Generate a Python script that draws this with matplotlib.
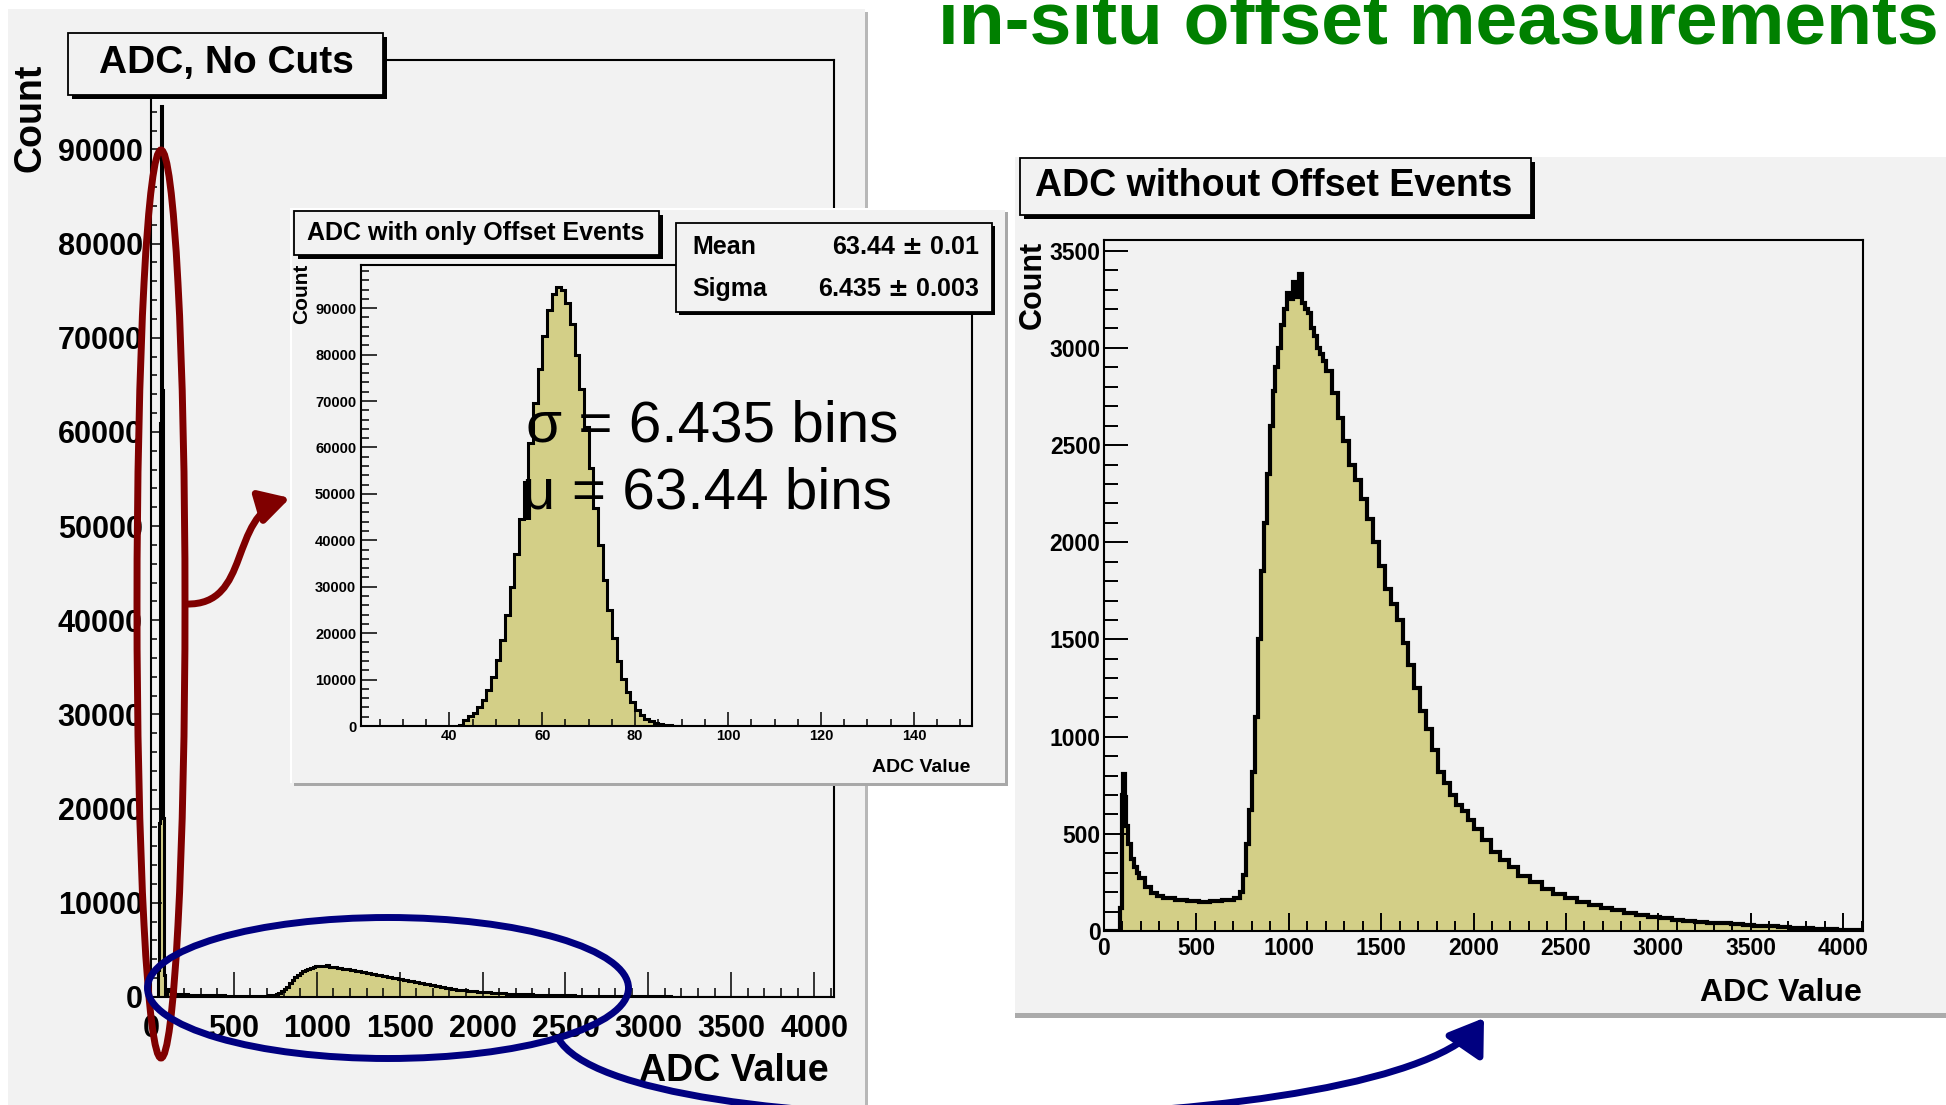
import matplotlib.pyplot as plt
from matplotlib.patches import Rectangle, Ellipse, FancyArrowPatch
from matplotlib.path import Path
from matplotlib.ticker import MultipleLocator
import numpy as np

# Canvas size in pixels (dpi 100)
W, H = 1946, 1105
plt.rcParams['font.family'] = ['Liberation Sans', 'DejaVu Sans']
plt.rcParams['font.weight'] = 'bold'

BG = '#f2f2f2'
FILL = '#d3cf87'

# Offset-only histogram (1 ADC bins starting at 42)
offset_first_bin = 42
offset_counts = [300, 1300, 2200, 2900, 4100, 5600, 7800, 10500, 14200, 18500,
                 24000, 30000, 37000, 44500, 52500, 61000, 69500, 77000, 84000, 89500,
                 93000, 94600, 94000, 91200, 86500, 80000, 72500, 64500, 55500, 47000,
                 39000, 31500, 25000, 19000, 14000, 10200, 7400, 5200, 3500, 2300,
                 1500, 1000, 650, 420, 260, 150, 90, 40]
offset_mean = '63.44 $\\pm$ 0.01'
offset_sigma = '6.435 $\\pm$ 0.003'

# Histogram without offset events (bin edges in ADC, counts read per bin)
phys_edges = [0, 88, 96, 104, 112, 120, 128, 144, 160, 176, 192, 224, 256, 288, 320,
              384, 448, 512, 576, 640, 704, 736, 752, 768, 784, 800, 816, 832, 848,
              864, 880, 896, 912, 928, 944, 960, 976, 992, 1008, 1024, 1040, 1056,
              1072, 1088, 1104, 1120, 1136, 1152, 1168, 1184, 1200, 1232, 1264, 1296,
              1328, 1360, 1392, 1424, 1456, 1488, 1520, 1552, 1584, 1616, 1648, 1680,
              1712, 1744, 1776, 1808, 1840, 1872, 1904, 1936, 1968, 2000, 2048, 2096,
              2144, 2192, 2240, 2304, 2368, 2432, 2496, 2560, 2624, 2688, 2752, 2816,
              2880, 2944, 3008, 3072, 3136, 3200, 3264, 3328, 3392, 3456, 3520, 3584,
              3648, 3712, 3776, 3840, 3904, 3968, 4032, 4096]
phys_counts = [0, 120, 700, 810, 690, 540, 450, 370, 330, 300,
               275, 225, 195, 180, 170, 160, 155, 150, 155, 158,
               168, 200, 290, 450, 620, 820, 1100, 1500, 1850, 2100,
               2350, 2600, 2780, 2900, 3000, 3120, 3200, 3280, 3250, 3340,
               3260, 3380, 3230, 3200, 3180, 3100, 3060, 3000, 2970, 2930,
               2880, 2770, 2640, 2520, 2400, 2320, 2220, 2120, 2000, 1880,
               1760, 1680, 1600, 1480, 1370, 1250, 1130, 1040, 930, 820,
               760, 700, 650, 615, 570, 525, 470, 405, 365, 330,
               285, 250, 215, 190, 170, 150, 132, 118, 106, 95,
               84, 74, 66, 58, 52, 47, 43, 39, 35, 31,
               28, 24, 20, 17, 14, 11, 9, 7, 5]

offset_edges = np.arange(offset_first_bin, offset_first_bin + len(offset_counts) + 1)

fig = plt.figure(figsize=(W / 100, H / 100), dpi=100)
fig.patch.set_facecolor('white')


def layer(z):
    # full-figure axes in pixel coordinates (y downwards)
    ax = fig.add_axes([0, 0, 1, 1])
    ax.set_xlim(0, W)
    ax.set_ylim(H, 0)
    ax.axis('off')
    ax.patch.set_visible(False)
    ax.set_zorder(z)
    return ax


def px_axes(l, t, r, b, z):
    ax = fig.add_axes([l / W, 1 - b / H, (r - l) / W, (b - t) / H])
    ax.set_zorder(z)
    ax.patch.set_visible(False)
    for s in ax.spines.values():
        s.set_linewidth(1.5)
    return ax


def root_box(ax, x0, y0, x1, y1, sh=4):
    ax.add_patch(Rectangle((x0 + sh, y0 + sh), x1 - x0, y1 - y0, fc='black', ec='none'))
    ax.add_patch(Rectangle((x0, y0), x1 - x0, y1 - y0, fc=BG, ec='black', lw=1.3))


def draw_hist(ax, counts, edges, lw):
    ax.stairs(counts, edges, fill=True, color=FILL, lw=0)
    ax.stairs(counts, edges, color='black', lw=lw)


# ---- background panels
bg = layer(0)
bg.add_patch(Rectangle((865, 12), 3, H, fc='#b8b8b8', ec='none'))
bg.add_patch(Rectangle((8, 9), 857, H, fc=BG, ec='none'))
bg.add_patch(Rectangle((1015, 1013), W - 1015, 5, fc='#ababab', ec='none'))
bg.add_patch(Rectangle((1015, 157), W - 1015, 856, fc=BG, ec='none'))
root_box(bg, 1020, 158, 1531, 215)
bg.text(1274, 186, 'ADC without Offset Events', fontsize=27, ha='center', va='center')
bg.text(1033, 285, 'Count', fontsize=22, rotation=90, ha='center', va='center')
bg.text(1862, 993, 'ADC Value', fontsize=23, ha='right', va='center')
bg.text(31, 118, 'Count', fontsize=27, rotation=90, ha='center', va='center')
bg.text(829, 1071, 'ADC Value', fontsize=27, ha='right', va='center')

# ---- left panel: ADC, No Cuts
axl = px_axes(151, 60, 834, 997, 1)
draw_hist(axl, offset_counts, offset_edges, 2.2)
draw_hist(axl, phys_counts, phys_edges, 2.2)
axl.set_xlim(0, 4120)
axl.set_ylim(0, 99500)
axl.xaxis.set_major_locator(MultipleLocator(500))
axl.xaxis.set_minor_locator(MultipleLocator(100))
axl.yaxis.set_major_locator(MultipleLocator(10000))
axl.yaxis.set_minor_locator(MultipleLocator(2000))
axl.tick_params(which='both', direction='in', width=1.1, labelsize=22)
axl.tick_params(axis='x', which='major', length=18, pad=12)
axl.tick_params(axis='x', which='minor', length=6.5)
axl.tick_params(axis='y', which='major', length=8, pad=6)
axl.tick_params(axis='y', which='minor', length=4)

# ---- middle layer: left title box + inset background
mid = layer(2)
root_box(mid, 68, 33, 383, 95)
mid.text(226, 63, 'ADC, No Cuts', fontsize=28, ha='center', va='center')
mid.add_patch(Rectangle((294, 212), 714, 574, fc='#a8a8a8', ec='none'))
mid.add_patch(Rectangle((290, 208), 715, 575, fc='white', ec='none'))
mid.add_patch(Rectangle((292, 210), 713, 573, fc=BG, ec='none'))
mid.text(302, 294, 'Count', fontsize=15, rotation=90, ha='center', va='center')
mid.text(970, 768, 'ADC Value', fontsize=14, ha='right', va='center')

# ---- inset: ADC with only Offset Events
axi = px_axes(361, 265, 972, 726, 3)
draw_hist(axi, offset_counts, offset_edges, 2.2)
axi.set_xlim(21, 152.5)
axi.set_ylim(0, 99300)
axi.xaxis.set_major_locator(MultipleLocator(20))
axi.xaxis.set_minor_locator(MultipleLocator(5))
axi.yaxis.set_major_locator(MultipleLocator(10000))
axi.yaxis.set_minor_locator(MultipleLocator(2000))
axi.tick_params(which='both', direction='in', width=1.1, labelsize=10.5)
axi.tick_params(axis='x', which='major', length=10, pad=2)
axi.tick_params(axis='x', which='minor', length=5.4)
axi.tick_params(axis='y', which='major', length=11.5, pad=3.5)
axi.tick_params(axis='y', which='minor', length=5.8)

# ---- right panel: ADC without Offset Events
axr = px_axes(1104, 240, 1863, 931, 1)
draw_hist(axr, phys_counts, phys_edges, 3)
axr.set_xlim(0, 4108)
axr.set_ylim(0, 3555)
axr.xaxis.set_major_locator(MultipleLocator(500))
axr.xaxis.set_minor_locator(MultipleLocator(100))
axr.yaxis.set_major_locator(MultipleLocator(500))
axr.yaxis.set_minor_locator(MultipleLocator(100))
axr.tick_params(which='both', direction='in', width=1.4, labelsize=16.5)
axr.tick_params(axis='x', which='major', length=13, pad=4)
axr.tick_params(axis='x', which='minor', length=7)
axr.tick_params(axis='y', which='major', length=17, pad=2.5)
axr.tick_params(axis='y', which='minor', length=10)

# ---- top layer: inset boxes, text and annotations
top = layer(4)
root_box(top, 294, 211, 659, 255)
top.text(476, 233, 'ADC with only Offset Events', fontsize=18, ha='center', va='center')
root_box(top, 676, 223, 992, 312, sh=3)
top.text(692, 247, 'Mean', fontsize=18, ha='left', va='center')
top.text(979, 247, offset_mean, fontsize=18, ha='right', va='center')
top.text(692, 289, 'Sigma', fontsize=18, ha='left', va='center')
top.text(979, 289, offset_sigma, fontsize=18, ha='right', va='center')
top.text(712, 427, '\u03c3 = 6.435 bins', fontsize=42, fontweight='normal',
         ha='center', va='center')
top.text(707, 494, '\u03bc = 63.44 bins', fontsize=42, fontweight='normal',
         ha='center', va='center')

top.text(1438, 43, 'in-situ offset measurements', fontsize=54, color='#008000',
         ha='center', va='baseline')

red = '#800000'
blue = '#000080'
top.add_patch(Ellipse((161, 604), 48, 908, fill=False, ec=red, lw=5))
top.add_patch(Ellipse((388, 988), 481, 141, fill=False, ec=blue, lw=5))

red_path = Path([(186, 604), (252, 606), (228, 516), (290, 498)],
                [Path.MOVETO, Path.CURVE4, Path.CURVE4, Path.CURVE4])
top.add_patch(FancyArrowPatch(path=red_path, arrowstyle='-|>,head_length=0.5,head_width=0.28',
                              mutation_scale=36, color=red, lw=5))
blue_path = Path([(558, 1038), (620, 1150), (1400, 1140), (1484, 1018)],
                 [Path.MOVETO, Path.CURVE4, Path.CURVE4, Path.CURVE4])
top.add_patch(FancyArrowPatch(path=blue_path, arrowstyle='-|>,head_length=0.45,head_width=0.3',
                              mutation_scale=45, color=blue, lw=5))

fig.savefig('out.png', dpi=100, facecolor='white')
